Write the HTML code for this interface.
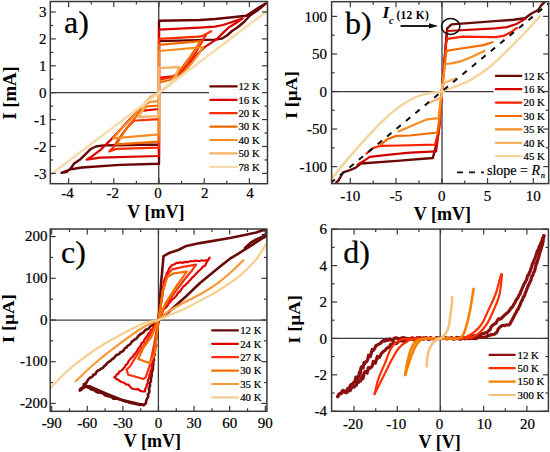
<!DOCTYPE html><html><head><meta charset="utf-8"><style>svg text{font-family:"Liberation Serif",serif;fill:#000}svg text[font-weight="normal"]{stroke:#000;stroke-width:0.22px}html,body{margin:0;padding:0;background:#fff;width:550px;height:452px;overflow:hidden;position:relative}</style></head><body><svg width="550" height="452" viewBox="0 0 550 452" style="position:absolute;left:0;top:0" fill="#111">
<rect width="550" height="452" fill="#fff"/>
<defs><clipPath id="clipA"><rect x="50.3" y="1.5" width="217.2" height="182.2"/></clipPath><clipPath id="clipB"><rect x="331.6" y="1.7" width="217.1" height="181.9"/></clipPath><clipPath id="clipC"><rect x="50.2" y="229" width="216.7" height="182.3"/></clipPath><clipPath id="clipD"><rect x="331.6" y="229.1" width="216.8" height="182.2"/></clipPath></defs>
<line x1="158.75" y1="1.5" x2="158.75" y2="183.7" stroke="#3c3c3c" stroke-width="1.3" />
<line x1="50.3" y1="92.7" x2="209" y2="92.7" stroke="#3c3c3c" stroke-width="1.25" />
<line x1="442" y1="1.7" x2="442" y2="183.6" stroke="#3c3c3c" stroke-width="1.3" />
<line x1="331.6" y1="91.5" x2="493.6" y2="91.5" stroke="#3c3c3c" stroke-width="1.25" />
<line x1="158.4" y1="229" x2="158.4" y2="411.3" stroke="#3c3c3c" stroke-width="1.3" />
<line x1="50.2" y1="320" x2="266.9" y2="320" stroke="#3c3c3c" stroke-width="1.25" />
<line x1="440.2" y1="229.1" x2="440.2" y2="411.3" stroke="#3c3c3c" stroke-width="1.3" />
<line x1="331.6" y1="338.4" x2="548.4" y2="338.4" stroke="#3c3c3c" stroke-width="1.25" />
<g clip-path="url(#clipA)">
<polyline points="159,92.7 159,20.8 200,20 215,19 230,17.5 246.2,15.7 252,12 258,8 266,3.4 258,10 250,15.5 244,22 238,27 232,31 227,35.5 222,38.6 215,39.6 159,41.1" fill="none" stroke="#6a0404" stroke-width="2.4" stroke-linejoin="round" stroke-linecap="round" />
<polyline points="159,92.7 159,163.7 120,164.9 81.8,167.5 70.4,169.4 61.5,172.8 66.5,172 70.4,168.7 74.2,163.5 80.5,159.2 85.6,154.1 90.7,149 95.8,146.5 103.5,145.4 115,145.2 159,144.5" fill="none" stroke="#6a0404" stroke-width="2.4" stroke-linejoin="round" stroke-linecap="round" />
<polyline points="159,92.7 159,29.6 200,27.6 215,26.6 223,25 232,22 242.7,18.4 236,23 229,27.3 224.3,31.6 216.5,39.4 205.4,46.6 197.7,53.8 186.6,67.1 177.8,74.8 172.4,76.4 159,77.8" fill="none" stroke="#dc0000" stroke-width="2.2" stroke-linejoin="round" stroke-linecap="round" />
<polyline points="159,92.7 159,156 100,157.6 86.6,159.7 91.5,156.6 101.2,149.3 111,139.6 120,130 130,119 136,113 141,110.8 159,109" fill="none" stroke="#dc0000" stroke-width="2.2" stroke-linejoin="round" stroke-linecap="round" />
<polyline points="159,92.7 159,38.9 198.6,36.7 202.1,36.1 211.2,31.3 206.5,33.9 202.1,41.6 195.5,52.7 187.7,63.8 178.9,73.7 172,77 159,79.8" fill="none" stroke="#ff2a00" stroke-width="2.2" stroke-linejoin="round" stroke-linecap="round" />
<polyline points="159,92.7 159,147.7 116.6,148.8 109.4,151.5 114.4,146 119.9,137.1 126.6,128.3 134.3,120.5 136.5,120.5 159,119.2" fill="none" stroke="#ff2a00" stroke-width="2.2" stroke-linejoin="round" stroke-linecap="round" />
<polyline points="159,92.7 159,44.9 200.8,41.1 196.6,47.1 189.9,57.1 182.2,67.1 175.5,74.8 170,80 159,82.5" fill="none" stroke="#f06a00" stroke-width="2.2" stroke-linejoin="round" stroke-linecap="round" />
<polyline points="159,92.7 159,141.6 116.6,144.3 122.1,134.9 128.8,125.5 136.5,116.1 141,110 147.1,106.4 159,105.5" fill="none" stroke="#f06a00" stroke-width="2.2" stroke-linejoin="round" stroke-linecap="round" />
<polyline points="159,92.7 159,51 203.2,47.1 198.8,53.8 192.1,62.7 184.4,71.5 175,80 165,88 159,92.7" fill="none" stroke="#f68c22" stroke-width="2.2" stroke-linejoin="round" stroke-linecap="round" />
<polyline points="159,92.7 159,134.4 113.3,138.3 119.9,130.5 127.7,122.2 134.3,115 142,106 149.8,102 159,101" fill="none" stroke="#f68c22" stroke-width="2.2" stroke-linejoin="round" stroke-linecap="round" />
<polyline points="159,92.7 159,68.1 179,67 174.7,79.4 171.6,83.2 164.6,88.7 159,92.7" fill="none" stroke="#f8b266" stroke-width="2.4" stroke-linejoin="round" stroke-linecap="round" />
<polyline points="159,92.7 159,116.1 138.3,117 142.7,110.4 145.4,102.4 150.7,96.6 155,94.9 159,92.7" fill="none" stroke="#f8b266" stroke-width="2.4" stroke-linejoin="round" stroke-linecap="round" />
<polyline points="50.3,174.8 267.5,10.8" fill="none" stroke="#f3dcaa" stroke-width="2.4" stroke-linejoin="round" stroke-linecap="round" />
</g>
<g clip-path="url(#clipB)">
<polyline points="441.8,91.5 444.1,66.4 445.8,44.9 447.2,28.3 451.6,24.4 495,21.1 513.3,19.8 524.9,18.3 531.9,13.2 538.1,10.1 541.2,5.4 545,1.6 547,-1" fill="none" stroke="#6b0a0a" stroke-width="2.4" stroke-linejoin="round" stroke-linecap="round" />
<polyline points="441.8,91.5 440.5,110 438.9,130 436,146 432.8,158 400,160.6 361,163.5 355.4,167.9 349.9,170.1 343.3,172.4 341.1,175.7 338.8,180.1 336.6,182.3 334,186" fill="none" stroke="#6b0a0a" stroke-width="2.4" stroke-linejoin="round" stroke-linecap="round" />
<polyline points="441.8,91.5 444.1,66.4 445.8,44.9 447.2,31 495,28.3 507,27.1 516.4,24 525.7,18.6" fill="none" stroke="#d00000" stroke-width="2.2" stroke-linejoin="round" stroke-linecap="round" />
<polyline points="441.8,91.5 440.5,110 438.9,130 436.1,151.3 410,152.6 389.7,154.7 369.8,156.9 363.2,161.3 357.6,164.6" fill="none" stroke="#d00000" stroke-width="2.2" stroke-linejoin="round" stroke-linecap="round" />
<polyline points="441.8,91.5 444.1,66.4 445.8,44.9 447.2,38.8 462.7,36.6 495,37.1 504,35.8 510.2,32.6 517,27.8" fill="none" stroke="#ff2000" stroke-width="2.2" stroke-linejoin="round" stroke-linecap="round" />
<polyline points="441.8,91.5 440.5,110 438.9,130 435,144.7 400,145.5 380.9,145.8 373.1,148 366.5,153.6" fill="none" stroke="#ff2000" stroke-width="2.2" stroke-linejoin="round" stroke-linecap="round" />
<polyline points="441.8,91.5 444.5,66 446.5,50.9 454.5,49.5 483.6,45.1 492.4,42.2" fill="none" stroke="#f46a00" stroke-width="2.2" stroke-linejoin="round" stroke-linecap="round" />
<polyline points="441.8,91.5 440,115 437.3,132.5 410,135.5 396.3,135.9 387.5,139.2 380.9,144.7" fill="none" stroke="#f46a00" stroke-width="2.2" stroke-linejoin="round" stroke-linecap="round" />
<polyline points="441.8,91.5 445.1,64 451.6,63.3 461.8,61.1 472,56.7 484.4,50.9" fill="none" stroke="#f68c22" stroke-width="2.2" stroke-linejoin="round" stroke-linecap="round" />
<polyline points="441.8,91.5 438.4,118.2 427.3,119.3 414,124.8 398.6,131.4" fill="none" stroke="#f68c22" stroke-width="2.2" stroke-linejoin="round" stroke-linecap="round" />
<polyline points="441.8,91.5 442.2,85.1 445.8,82.2 455.3,78.5" fill="none" stroke="#f8b266" stroke-width="2.2" stroke-linejoin="round" stroke-linecap="round" />
<polyline points="441.8,91.5 441.7,97.2 429.5,102.7" fill="none" stroke="#f8b266" stroke-width="2.2" stroke-linejoin="round" stroke-linecap="round" />
<path d="M540.2,15.9 C538.17,18.17 532.1,25.12 528,29.5 C523.9,33.88 520.08,37.7 515.6,42.2 C511.12,46.7 506.18,51.78 501.1,56.5 C496.02,61.22 490.43,66.47 485.1,70.5 C479.77,74.53 474.68,77.78 469.1,80.7 C463.52,83.62 456.15,86.2 451.6,88 C447.05,89.8 445.12,90.72 441.8,91.5 C438.48,92.28 435.58,91.95 431.7,92.7 C427.82,93.45 422.92,94.33 418.5,96 C414.08,97.67 409.63,99.93 405.2,102.7 C400.77,105.47 396.32,108.92 391.9,112.6 C387.48,116.28 383.48,120 378.7,124.8 C373.92,129.6 368.37,135.68 363.2,141.4 C358.03,147.12 352.87,153.02 347.7,159.1 C342.53,165.18 335.32,174.08 332.2,177.9 C329.08,181.72 329.53,181.32 329,182" fill="none" stroke="#f3d49a" stroke-width="2.4" stroke-linejoin="round" stroke-linecap="round" />
</g>
<g clip-path="url(#clipC)">
<polyline points="158.5,320 161.3,280.4 162,273.3 163.5,256.2 169,253.1 178.3,250 186.4,245.9 200,243.1 230,238 245.9,234.8 256.3,232.4 263.5,230 267,230 267.5,235.6 261.9,238.7 255.5,242.7 249.9,246.3 244.3,249.9 238,253.9 230,258.7 220.1,266.5 200,283 186.4,296 167.5,313 158.5,320" fill="none" stroke="#6b0a0a" stroke-width="2.6" stroke-linejoin="round" stroke-linecap="round" />
<polyline points="267.5,234 261.9,237 256.3,239.4 250.7,242.6 245,248" fill="none" stroke="#6b0a0a" stroke-width="2.6" stroke-linejoin="round" stroke-linecap="round" />
<polyline points="262,230 267,230 267,235 263,235" fill="none" stroke="#6b0a0a" stroke-width="2.6" stroke-linejoin="round" stroke-linecap="round" />
<polyline points="158.64,320.17 157.12,321.31 155.74,322.63 153.88,323.35 153.01,325.3 150.94,325.75 149.76,327.32 148.38,328.63 146.61,329.46 144.96,330.44 143.82,332.06 142.22,333.1 140.5,334 139.11,335.29 137.81,336.71 136.64,338.3 134.96,339.36 133.44,340.59 131.78,341.66 130.88,343.54 129.4,344.81 127.63,345.77 126.5,347.4 124.75,348.38 123.71,350.13 122.4,351.57 120.36,352.14 119.34,353.93 117.41,354.62 115.77,355.67 114.58,357.27 113.18,358.6 111.52,359.62 110.21,361.07 108.47,361.98 106.94,363.16 105.83,364.94 104.17,366.05 103.06,367.84 101.14,368.63 99.57,369.86 97.71,370.73 96.33,372.18 95.47,374.26 93.24,374.74 92.51,376.64 90.64,377.43 89.06,378.49 87.98,380.06 86.86,381.57 86.05,383.4 83.9,384 83.57,386.19 82.39,387.74 80.37,388.65 79.68,390.63 81.31,389.78 82.52,388.26 84.25,387.58 85.86,386.45 87.58,387.35 89.38,388.07 90.91,389.37 92.92,389.61 94.65,390.46 96.18,391.8 97.96,392.6 100.06,392.32 101.71,393.17 103.58,393.46 104.81,395.33 106.65,395.69 108.43,396.23 110.22,396.72 112,397.24 113.43,398.76 115.64,398.41 117.67,398.71 119.56,399.42 121.5,400.01 123.35,400.85 125.3,401.4 127.27,401.85 129.14,402.58 130.95,403.03 132.77,403.45 134.72,403.1 136.4,404.33 138.26,404.5 140.07,404.98 142.07,404.35 143.64,405.18 145.9,403.17 146.27,400.48 147.2,398.13 148.35,396.41 147.79,394.41 149.21,392.73 149.4,390.85 148.92,388.86 149.51,387.05 150.16,385.25 149.59,383.24 150.92,381.55 150.85,379.62 151.09,377.66 151.75,375.75 151.59,373.73 152.07,371.8 152.74,369.89 152.97,367.92 152.95,365.92 153.44,363.99 152.93,361.92 154.09,360.09 153.27,358.11 153.34,356.26 154.98,354.65 154.46,352.71 154.82,350.91 154.53,349.01 155.1,347.24 156.3,345.55 155.65,343.6 155.51,341.73 155.77,339.93 156.09,338.13 156.27,336.31 157.03,334.55 156.99,332.71 157.4,330.91 157.54,329.09 157.55,327.25 157.88,325.45 157.91,323.61 158.87,321.88 158.5,320" fill="none" stroke="#6b0a0a" stroke-width="2.6" stroke-linejoin="round" stroke-linecap="round" />
<polyline points="84.3,385.8 90.5,386.6 105.9,393.5 121.4,399.7 136.8,403.6 143.8,405.1" fill="none" stroke="#6b0a0a" stroke-width="2.6" stroke-linejoin="round" stroke-linecap="round" />
<polyline points="158.8,319.75 158.72,317.85 158.58,315.94 159.19,314.15 159.33,312.29 159.63,310.45 160.55,308.7 160.28,306.78 160.86,304.98 160.86,303.1 161.33,301.28 161.72,299.46 162.01,297.62 162.19,295.76 162.56,293.93 162.81,292.08 162.44,290.14 163.47,288.41 163.09,286.47 163.8,284.69 163.59,282.78 164.25,280.98 164.73,279.12 165.37,277.32 166.42,275.66 166.49,273.65 167.67,272.04 168.44,270.4 169.14,268.34 170.6,266.9 171.95,265.21 174.38,264.3 176.66,262.88 178.6,262.94 180.44,262.23 182.46,262.85 184.3,262.14 186.19,261.83 188.16,262.1 189.96,261.15 191.91,261.25 193.82,261.17 195.77,260.56 197.78,260.84 199.78,261.03 201.74,260.31 203.75,260.73 205.72,260.29 208.05,260.45 209.71,257.62 208.74,259.16 207.78,260.7 206.74,262.2 205.89,263.69 204.93,265.83 202.76,266.76 201.45,268.55 199.85,270.05 198.13,271.43 196.72,273.12 195.18,274.68 193.84,276.45 192.24,277.42 191.28,279.05 189.95,280.3 188.64,281.58 187.5,283.02 186.03,284.13 184.95,285.6 183.22,286.53 182.27,288.12 181.05,289.48 180.29,291.24 178.64,292.23 177.48,293.64 176.75,295.43 175.36,296.64 174.22,298.08 172.58,299.08 171.27,300.37 170.3,301.97 168.91,303.18 168.01,304.83 166.96,306.35 165.75,307.73 164.07,308.78 163.01,310.52 162.43,312.54 161.84,314.53 160.39,316.08 159.79,318.08 158.5,319.7" fill="none" stroke="#e00000" stroke-width="2.2" stroke-linejoin="round" stroke-linecap="round" />
<polyline points="158.22,319.5 157,320.98 156.23,322.77 155.4,324.52 154.38,326.13 153.27,327.68 152.32,329.35 150.56,330.45 150.23,332.55 148.26,333.5 147.76,335.48 146.48,336.91 145.37,338.46 144.22,339.98 143.68,341.94 141.7,343.03 140.87,344.94 139.96,346.8 138.49,348.25 137.59,350.11 136.4,351.77 135.37,353.57 133.79,354.74 133.04,356.56 131.46,357.73 130.22,359.17 129.03,360.65 128.08,362.31 127.22,364.04 125.59,365.18 124.92,367.06 123.39,368.29 122.37,369.87 120.83,370.93 119,371.7 118.45,373.75 116.63,374.53 115.77,376.27 114.33,377.12 116.1,378.74 118.32,379.75 120.07,381.31 122.12,382.21 124.3,382.78 126.04,384.43 128.48,384.62 129.95,386.45 131.57,388.2 133.71,389 135.98,389.31 138.34,389.22 140.31,390.84 142.55,391.36 145.14,391.48 145.2,388.74 146.73,386.47 146.62,384.42 148.15,382.87 147.67,380.72 148.44,378.94 149.31,377.19 149.41,375.21 150.51,373.52 150.41,371.48 151.31,369.77 152.01,368.06 151.63,366.16 152.07,364.41 152.87,362.71 153.55,361 152.8,359.04 153.63,357.35 154.29,355.64 153.67,353.7 154.32,351.98 155.28,350.32 154.82,348.41 155.62,346.72 155.84,344.92 155.47,343.05 155.65,341.25 155.83,339.45 156.93,337.75 156.93,335.93 156.65,334.07 156.58,332.24 157.6,330.53 157.54,328.7 157.61,326.89 157.55,325.06 157.5,323.23 158.31,321.5 158.5,319.7" fill="none" stroke="#e00000" stroke-width="2.2" stroke-linejoin="round" stroke-linecap="round" />
<polyline points="158.5,319.7 163.5,288.8 167.4,274.8 172.1,269.4 186,266.3 196.1,264.7 192.2,270.2 184.5,279.5 175.2,291.9 164.3,307.4 158.5,319.7" fill="none" stroke="#ff3010" stroke-width="2.2" stroke-linejoin="round" stroke-linecap="round" />
<polyline points="158.5,319.7 146.5,341.6 138.2,353.2 129.9,366.5 126.6,369.8 128.3,374.8 134.9,376.5 143.2,379 145.7,377.3 149.9,364.9 154,344.9 158.5,319.7" fill="none" stroke="#ff3010" stroke-width="2.2" stroke-linejoin="round" stroke-linecap="round" />
<polyline points="158.5,319.7 162.8,290.3 167.4,277.1 173.6,273.3 186.8,271.7 182.9,277.1 175.2,288 165.9,302.7 158.5,319.7" fill="none" stroke="#f47000" stroke-width="2.2" stroke-linejoin="round" stroke-linecap="round" />
<polyline points="158.5,319.7 151.5,336.6 143.2,348.2 138.2,359 149.9,363.2 154.9,353.2 158.5,319.7" fill="none" stroke="#f47000" stroke-width="2.2" stroke-linejoin="round" stroke-linecap="round" />
<path d="M243.3,260.2 C241.78,261.7 238.07,265.68 234.2,269.2 C230.33,272.72 224.82,277.67 220.1,281.3 C215.38,284.93 210.38,288.22 205.9,291 C201.42,293.78 197.43,295.77 193.2,298 C188.97,300.23 184.75,302.07 180.5,304.4 C176.25,306.73 171.37,309.4 167.7,312 C164.03,314.6 162.57,317.47 158.5,320 C154.43,322.53 149.93,323.13 143.3,327.2 C136.67,331.27 126.9,338.27 118.7,344.4 C110.5,350.53 101.27,357.85 94.1,364 C86.93,370.15 78.77,378.42 75.7,381.3" fill="none" stroke="#f89a3a" stroke-width="2.2" stroke-linejoin="round" stroke-linecap="round" />
<path d="M268,241 C266.05,244.03 260.93,253.48 256.3,259.2 C251.67,264.92 246.23,270.25 240.2,275.3 C234.17,280.35 225.82,285.82 220.1,289.5 C214.38,293.18 210.38,294.92 205.9,297.4 C201.42,299.88 197.43,302.18 193.2,304.4 C188.97,306.62 184.75,308.8 180.5,310.7 C176.25,312.6 171.37,314.25 167.7,315.8 C164.03,317.35 162.57,318.72 158.5,320 C154.43,321.28 149.93,320.87 143.3,323.5 C136.67,326.13 126.9,331.3 118.7,335.8 C110.5,340.3 102.28,344.97 94.1,350.5 C85.92,356.03 77.12,362.5 69.6,369 C62.08,375.5 52.43,386.08 49,389.5" fill="none" stroke="#f5cf90" stroke-width="2.2" stroke-linejoin="round" stroke-linecap="round" />
</g>
<g clip-path="url(#clipD)">
<polyline points="543.9,235.72 543.24,237.62 542.58,237.92 541.92,241.06 541.26,242.2 540.6,243.82 539.94,245.76 539.28,246.45 538.62,248.86 537.96,250.23 537.3,250.84 536.73,253.4 536.16,254.72 535.59,256.64 535.01,258.18 534.44,259.4 533.87,260.82 533.3,262.92 532.73,263.09 532.16,264.59 531.59,266.99 531.01,268.55 530.44,270.59 529.87,271.67 529.3,272.87 528.64,275.02 527.97,275.12 527.31,276.82 526.65,279.64 525.99,280.65 525.33,282.01 524.66,283.3 524,283.96 523.34,286.03 522.67,287.22 522.01,288.78 521.35,290.68 520.69,291.51 520.03,294.29 519.36,294.56 518.7,295.8 517.74,298.16 516.77,299.17 515.81,300.53 514.85,302.89 513.88,304.18 512.92,306 511.95,307.66 510.99,307.86 510.03,309.77 509.06,310.87 508.1,312.14 506.78,313.17 505.45,314.31 504.12,315.52 502.8,316.89 501.48,318.4 500.15,319.22 498.82,318.74 497.5,320.04 496.43,322.46 495.36,323.67 494.29,324.17 493.22,324.8 492.15,325.72 491.08,326.86 490.01,329.7 488.94,330.59 487.87,331.42 486.8,332.74 485.21,332.76 483.62,333.58 482.03,333.58 480.44,335.02 478.85,335.35 477.26,335.84 475.67,335.53 474.08,335.91 472.49,336.38 470.9,338.28 469.13,338.62 467.37,338.18 465.6,338.39 463.83,337.84 462.07,338.04 460.3,337.62 458.53,338.86 456.77,337.39 455,338.82 453.36,338.99 451.72,337.77 450.08,338.54 448.44,338.19 446.8,338.92 445.16,337.73 443.52,338.39 441.88,338.33 440.24,338.01 438.6,338.06 436.96,337.88 435.32,338.4 433.68,338.53 432.04,338.55 430.4,337.52 428.76,339.07 427.12,338.59 425.48,338.1 423.84,339.03 422.2,339.12 420.56,337.6 418.92,338.24 417.28,337.68 415.64,338.77 414,338.49 412.38,337.77 410.76,338.53 409.15,339.04 407.53,338.57 405.91,338.21 404.29,337.88 402.67,337.65 401.05,338.26 399.44,339.16 397.82,338.37 396.2,337.9 394.61,338.11 393.02,339.97 391.44,340.26 389.85,338.87 388.26,340.35 386.68,339.35 385.09,341.11 383.5,340.64 381.98,341.66 380.46,343.35 378.94,344.06 377.42,344.98 375.9,345.76 374.99,347.95 374.07,349.36 373.16,350.7 372.24,349.42 371.33,352.97 370.41,356.58 369.5,355.42 368.59,355.18 367.67,359.76 366.76,361.5 365.84,361.72 364.93,363.49 364.01,362.47 363.1,368.07 362.37,367.31 361.64,366.64 360.91,368.08 360.19,373.98 359.46,371.96 358.73,376.97 358,376.3 356.91,378.78 355.83,377.08 354.74,381.99 353.66,382.44 352.57,384.11 351.49,384.27 350.4,385.2 349.13,388.69 347.86,388.27 346.59,390.65 345.32,391.49 344.05,390.98 342.78,390.33 341.51,392.57 340.24,393.36 338.97,394.17 337.7,396.6" fill="none" stroke="#8a1010" stroke-width="3.2" stroke-linejoin="round" stroke-linecap="round" />
<polyline points="543.9,235.72 543.64,237.63 543.38,237.94 543.12,241.09 542.86,242.24 542.6,243.87 542.13,245.78 541.66,246.43 541.19,248.82 540.72,250.15 540.25,250.73 539.78,253.33 539.31,254.69 538.84,256.64 538.36,258.23 537.89,259.48 537.42,260.94 536.95,263.08 536.48,263.29 536.01,264.82 535.54,267.26 535.07,268.85 534.6,270.94 533.98,272.05 533.35,273.3 532.73,275.52 532.11,275.69 531.48,277.46 530.86,280.35 530.24,281.44 529.61,282.86 528.99,284.22 528.36,284.96 527.74,287.1 527.12,288.36 526.49,289.99 525.87,291.96 525.25,292.86 524.62,295.71 524,296.06 523.24,297.32 522.49,299.74 521.73,300.82 520.97,302.25 520.21,304.68 519.46,306.03 518.7,307.93 517.94,309.66 517.19,309.92 516.43,311.91 515.67,313.07 514.91,314.42 514.16,315.97 513.4,317.63 512.34,319.43 511.28,321.4 510.22,323.5 509.16,324.91 508.1,325.02 506.33,324.9 504.57,325.7 502.8,325.27 501.66,325.9 500.51,326.66 499.37,327.71 498.23,328.97 497.09,331.94 495.94,332.96 494.8,333.92 493.14,334.54 491.48,334.53 489.81,335.32 488.15,335.29 486.49,336.7 484.82,337 483.16,337.46 481.5,337.12 479.85,337.02 478.19,337 476.54,338.42 474.88,338.75 473.23,338.3 471.58,338.5 469.92,337.94 468.27,338.14 466.62,337.7 464.96,338.93 463.31,337.46 461.65,338.88 460,339.09 458.33,337.87 456.66,338.64 454.99,338.29 453.32,339.02 451.65,337.83 449.98,338.49 448.31,338.43 446.64,338.11 444.97,338.16 443.3,337.98 441.63,338.5 439.97,338.63 438.3,338.65 436.63,337.62 434.96,339.17 433.29,338.69 431.62,338.2 429.95,339.13 428.28,339.22 426.61,337.7 424.94,338.34 423.27,337.78 421.6,338.87 419.79,338.73 417.97,338.12 416.16,339.01 414.34,339.63 412.53,339.27 410.71,339.03 408.9,338.82 407.2,338.98 405.5,339.99 403.8,341.28 402.1,340.89 400.4,340.81 398.7,341.18 397,343.21 395.3,343.65 393.6,342.15 392.16,344.88 390.71,344.29 389.27,347.39 387.83,347.51 386.39,348.62 384.94,350.61 383.5,351.2 382.48,352.37 381.46,353.4 380.44,355.41 379.42,357.33 378.4,357.82 377.38,356.37 376.36,359.74 375.34,363.18 374.32,361.85 373.3,361.42 372.28,365.82 371.26,367.36 370.24,367.4 369.22,368.99 368.2,367.77 367.18,373.19 366.16,372.25 365.14,371.39 364.12,372.64 363.1,378.35 361.98,376.14 360.86,380.97 359.73,380.1 358.61,382.4 357.49,380.53 356.37,385.26 355.24,385.54 354.12,387.03 353,387.02 351.61,387.31 350.22,390.58 348.83,389.95 347.44,392.13 346.05,392.76 344.65,392.04 343.26,391.18 341.87,393.21 340.48,393.78 339.09,394.38 337.7,396.6" fill="none" stroke="#8a1010" stroke-width="3.2" stroke-linejoin="round" stroke-linecap="round" />
<path d="M501.4,274.1 C501.18,274.77 501.07,274.78 500.1,278.1 C499.13,281.42 497.53,288.7 495.6,294 C493.67,299.3 491.02,304.6 488.5,309.9 C485.98,315.2 484.03,321.37 480.5,325.8 C476.97,330.23 471.55,334.42 467.3,336.5 C463.05,338.58 464.32,337.97 455,338.3 C445.68,338.63 420.78,338.1 411.4,338.5 C402.02,338.9 402.08,339.07 398.7,340.7 C395.32,342.33 393.42,344.48 391.1,348.3 C388.78,352.12 386.92,358.52 384.8,363.6 C382.68,368.68 380.1,373.72 378.4,378.8 C376.7,383.88 375.23,391.55 374.6,394.1" fill="none" stroke="#ff3000" stroke-width="2.2" stroke-linejoin="round" stroke-linecap="round" />
<path d="M502,274.5 C501.58,277.83 500.92,288.5 499.5,294.5 C498.08,300.5 495.83,305.25 493.5,310.5 C491.17,315.75 488.92,321.58 485.5,326 C482.08,330.42 478.08,334.93 473,337 C467.92,339.07 464.42,338.13 455,338.4 C445.58,338.67 424.6,338 416.5,338.6 C408.4,339.2 409.37,340.38 406.4,342 C403.43,343.62 401.25,345.13 398.7,348.3 C396.15,351.47 393.63,356.33 391.1,361 C388.57,365.67 386.25,370.78 383.5,376.3 C380.75,381.82 376.08,391.13 374.6,394.1" fill="none" stroke="#ff3000" stroke-width="2.2" stroke-linejoin="round" stroke-linecap="round" />
<path d="M473.6,288.7 C473.38,290.03 472.97,292.72 472.3,296.7 C471.63,300.68 470.72,307.3 469.6,312.6 C468.48,317.9 467.15,324.3 465.6,328.5 C464.05,332.7 463.73,336.15 460.3,337.8 C456.87,339.45 450.6,338.28 445,338.4 C439.4,338.52 431.45,338.12 426.7,338.5 C421.95,338.88 419.05,339.07 416.5,340.7 C413.95,342.33 412.88,344.92 411.4,348.3 C409.92,351.68 408.65,356.55 407.6,361 C406.55,365.45 405.52,372.67 405.1,375" fill="none" stroke="#f88000" stroke-width="2.6" stroke-linejoin="round" stroke-linecap="round" />
<path d="M421.6,339.4 C420.75,340.25 418.2,341.75 416.5,344.5 C414.8,347.25 413.3,350.82 411.4,355.9 C409.5,360.98 406.15,371.82 405.1,375" fill="none" stroke="#f88000" stroke-width="2.6" stroke-linejoin="round" stroke-linecap="round" />
<path d="M452.1,297 C452.03,298.48 452.02,302.73 451.7,305.9 C451.38,309.07 450.68,312.65 450.2,316 C449.72,319.35 449.52,323.13 448.8,326 C448.08,328.87 447.28,331.13 445.9,333.2 C444.52,335.27 442,337.37 440.5,338.4 C439,339.43 438.35,338.38 436.9,339.4 C435.45,340.42 433.28,342.17 431.8,344.5 C430.32,346.83 428.85,349.8 428,353.4 C427.15,357 426.92,363.98 426.7,366.1" fill="none" stroke="#f7c07c" stroke-width="2.6" stroke-linejoin="round" stroke-linecap="round" />
</g>
<g clip-path="url(#clipB)"><line x1="331.5" y1="182.2" x2="550" y2="2.4" stroke="#111" stroke-width="2" stroke-dasharray="5.6 6.6" stroke-dashoffset="1.2"/></g>
<line x1="68.6" y1="183.7" x2="68.6" y2="178.2" stroke="#3a3a3a" stroke-width="1.2" />
<line x1="68.6" y1="1.5" x2="68.6" y2="7" stroke="#3a3a3a" stroke-width="1.2" />
<line x1="113.8" y1="183.7" x2="113.8" y2="178.2" stroke="#3a3a3a" stroke-width="1.2" />
<line x1="113.8" y1="1.5" x2="113.8" y2="7" stroke="#3a3a3a" stroke-width="1.2" />
<line x1="159" y1="183.7" x2="159" y2="178.2" stroke="#3a3a3a" stroke-width="1.2" />
<line x1="159" y1="1.5" x2="159" y2="7" stroke="#3a3a3a" stroke-width="1.2" />
<line x1="204.2" y1="183.7" x2="204.2" y2="178.2" stroke="#3a3a3a" stroke-width="1.2" />
<line x1="204.2" y1="1.5" x2="204.2" y2="7" stroke="#3a3a3a" stroke-width="1.2" />
<line x1="249.4" y1="183.7" x2="249.4" y2="178.2" stroke="#3a3a3a" stroke-width="1.2" />
<line x1="249.4" y1="1.5" x2="249.4" y2="7" stroke="#3a3a3a" stroke-width="1.2" />
<line x1="91.2" y1="183.7" x2="91.2" y2="180.7" stroke="#3a3a3a" stroke-width="1.2" />
<line x1="91.2" y1="1.5" x2="91.2" y2="4.5" stroke="#3a3a3a" stroke-width="1.2" />
<line x1="136.4" y1="183.7" x2="136.4" y2="180.7" stroke="#3a3a3a" stroke-width="1.2" />
<line x1="136.4" y1="1.5" x2="136.4" y2="4.5" stroke="#3a3a3a" stroke-width="1.2" />
<line x1="181.6" y1="183.7" x2="181.6" y2="180.7" stroke="#3a3a3a" stroke-width="1.2" />
<line x1="181.6" y1="1.5" x2="181.6" y2="4.5" stroke="#3a3a3a" stroke-width="1.2" />
<line x1="226.8" y1="183.7" x2="226.8" y2="180.7" stroke="#3a3a3a" stroke-width="1.2" />
<line x1="226.8" y1="1.5" x2="226.8" y2="4.5" stroke="#3a3a3a" stroke-width="1.2" />
<line x1="50.3" y1="173.4" x2="55.8" y2="173.4" stroke="#3a3a3a" stroke-width="1.2" />
<line x1="267.5" y1="173.4" x2="262" y2="173.4" stroke="#3a3a3a" stroke-width="1.2" />
<line x1="50.3" y1="146.5" x2="55.8" y2="146.5" stroke="#3a3a3a" stroke-width="1.2" />
<line x1="267.5" y1="146.5" x2="262" y2="146.5" stroke="#3a3a3a" stroke-width="1.2" />
<line x1="50.3" y1="119.6" x2="55.8" y2="119.6" stroke="#3a3a3a" stroke-width="1.2" />
<line x1="267.5" y1="119.6" x2="262" y2="119.6" stroke="#3a3a3a" stroke-width="1.2" />
<line x1="50.3" y1="92.7" x2="55.8" y2="92.7" stroke="#3a3a3a" stroke-width="1.2" />
<line x1="267.5" y1="92.7" x2="262" y2="92.7" stroke="#3a3a3a" stroke-width="1.2" />
<line x1="50.3" y1="65.8" x2="55.8" y2="65.8" stroke="#3a3a3a" stroke-width="1.2" />
<line x1="267.5" y1="65.8" x2="262" y2="65.8" stroke="#3a3a3a" stroke-width="1.2" />
<line x1="50.3" y1="38.9" x2="55.8" y2="38.9" stroke="#3a3a3a" stroke-width="1.2" />
<line x1="267.5" y1="38.9" x2="262" y2="38.9" stroke="#3a3a3a" stroke-width="1.2" />
<line x1="50.3" y1="12" x2="55.8" y2="12" stroke="#3a3a3a" stroke-width="1.2" />
<line x1="267.5" y1="12" x2="262" y2="12" stroke="#3a3a3a" stroke-width="1.2" />
<line x1="50.3" y1="159.95" x2="53.3" y2="159.95" stroke="#3a3a3a" stroke-width="1.2" />
<line x1="267.5" y1="159.95" x2="264.5" y2="159.95" stroke="#3a3a3a" stroke-width="1.2" />
<line x1="50.3" y1="133.05" x2="53.3" y2="133.05" stroke="#3a3a3a" stroke-width="1.2" />
<line x1="267.5" y1="133.05" x2="264.5" y2="133.05" stroke="#3a3a3a" stroke-width="1.2" />
<line x1="50.3" y1="106.15" x2="53.3" y2="106.15" stroke="#3a3a3a" stroke-width="1.2" />
<line x1="267.5" y1="106.15" x2="264.5" y2="106.15" stroke="#3a3a3a" stroke-width="1.2" />
<line x1="50.3" y1="79.25" x2="53.3" y2="79.25" stroke="#3a3a3a" stroke-width="1.2" />
<line x1="267.5" y1="79.25" x2="264.5" y2="79.25" stroke="#3a3a3a" stroke-width="1.2" />
<line x1="50.3" y1="52.35" x2="53.3" y2="52.35" stroke="#3a3a3a" stroke-width="1.2" />
<line x1="267.5" y1="52.35" x2="264.5" y2="52.35" stroke="#3a3a3a" stroke-width="1.2" />
<line x1="50.3" y1="25.45" x2="53.3" y2="25.45" stroke="#3a3a3a" stroke-width="1.2" />
<line x1="267.5" y1="25.45" x2="264.5" y2="25.45" stroke="#3a3a3a" stroke-width="1.2" />
<rect x="50.3" y="1.5" width="217.2" height="182.2" fill="none" stroke="#3a3a3a" stroke-width="1.5"/>
<text x="67.6" y="197.8" font-size="15" text-anchor="middle" font-weight="normal" font-style="normal" >-4</text>
<text x="112.8" y="197.8" font-size="15" text-anchor="middle" font-weight="normal" font-style="normal" >-2</text>
<text x="158" y="197.8" font-size="15" text-anchor="middle" font-weight="normal" font-style="normal" >0</text>
<text x="204.8" y="197.8" font-size="15" text-anchor="middle" font-weight="normal" font-style="normal" >2</text>
<text x="250" y="197.8" font-size="15" text-anchor="middle" font-weight="normal" font-style="normal" >4</text>
<text x="46.5" y="17.2" font-size="15" text-anchor="end" font-weight="normal" font-style="normal" >3</text>
<text x="46.5" y="44.1" font-size="15" text-anchor="end" font-weight="normal" font-style="normal" >2</text>
<text x="46.5" y="71" font-size="15" text-anchor="end" font-weight="normal" font-style="normal" >1</text>
<text x="46.5" y="97.9" font-size="15" text-anchor="end" font-weight="normal" font-style="normal" >0</text>
<text x="46.5" y="124.8" font-size="15" text-anchor="end" font-weight="normal" font-style="normal" >-1</text>
<text x="46.5" y="151.7" font-size="15" text-anchor="end" font-weight="normal" font-style="normal" >-2</text>
<text x="46.5" y="178.6" font-size="15" text-anchor="end" font-weight="normal" font-style="normal" >-3</text>
<line x1="350.3" y1="183.6" x2="350.3" y2="178.1" stroke="#3a3a3a" stroke-width="1.2" />
<line x1="350.3" y1="1.7" x2="350.3" y2="7.2" stroke="#3a3a3a" stroke-width="1.2" />
<line x1="396.05" y1="183.6" x2="396.05" y2="178.1" stroke="#3a3a3a" stroke-width="1.2" />
<line x1="396.05" y1="1.7" x2="396.05" y2="7.2" stroke="#3a3a3a" stroke-width="1.2" />
<line x1="441.8" y1="183.6" x2="441.8" y2="178.1" stroke="#3a3a3a" stroke-width="1.2" />
<line x1="441.8" y1="1.7" x2="441.8" y2="7.2" stroke="#3a3a3a" stroke-width="1.2" />
<line x1="487.55" y1="183.6" x2="487.55" y2="178.1" stroke="#3a3a3a" stroke-width="1.2" />
<line x1="487.55" y1="1.7" x2="487.55" y2="7.2" stroke="#3a3a3a" stroke-width="1.2" />
<line x1="533.3" y1="183.6" x2="533.3" y2="178.1" stroke="#3a3a3a" stroke-width="1.2" />
<line x1="533.3" y1="1.7" x2="533.3" y2="7.2" stroke="#3a3a3a" stroke-width="1.2" />
<line x1="373.18" y1="183.6" x2="373.18" y2="180.6" stroke="#3a3a3a" stroke-width="1.2" />
<line x1="373.18" y1="1.7" x2="373.18" y2="4.7" stroke="#3a3a3a" stroke-width="1.2" />
<line x1="418.93" y1="183.6" x2="418.93" y2="180.6" stroke="#3a3a3a" stroke-width="1.2" />
<line x1="418.93" y1="1.7" x2="418.93" y2="4.7" stroke="#3a3a3a" stroke-width="1.2" />
<line x1="464.68" y1="183.6" x2="464.68" y2="180.6" stroke="#3a3a3a" stroke-width="1.2" />
<line x1="464.68" y1="1.7" x2="464.68" y2="4.7" stroke="#3a3a3a" stroke-width="1.2" />
<line x1="510.43" y1="183.6" x2="510.43" y2="180.6" stroke="#3a3a3a" stroke-width="1.2" />
<line x1="510.43" y1="1.7" x2="510.43" y2="4.7" stroke="#3a3a3a" stroke-width="1.2" />
<line x1="331.6" y1="166.6" x2="337.1" y2="166.6" stroke="#3a3a3a" stroke-width="1.2" />
<line x1="548.7" y1="166.6" x2="543.2" y2="166.6" stroke="#3a3a3a" stroke-width="1.2" />
<line x1="331.6" y1="129.05" x2="337.1" y2="129.05" stroke="#3a3a3a" stroke-width="1.2" />
<line x1="548.7" y1="129.05" x2="543.2" y2="129.05" stroke="#3a3a3a" stroke-width="1.2" />
<line x1="331.6" y1="91.5" x2="337.1" y2="91.5" stroke="#3a3a3a" stroke-width="1.2" />
<line x1="548.7" y1="91.5" x2="543.2" y2="91.5" stroke="#3a3a3a" stroke-width="1.2" />
<line x1="331.6" y1="53.95" x2="337.1" y2="53.95" stroke="#3a3a3a" stroke-width="1.2" />
<line x1="548.7" y1="53.95" x2="543.2" y2="53.95" stroke="#3a3a3a" stroke-width="1.2" />
<line x1="331.6" y1="16.4" x2="337.1" y2="16.4" stroke="#3a3a3a" stroke-width="1.2" />
<line x1="548.7" y1="16.4" x2="543.2" y2="16.4" stroke="#3a3a3a" stroke-width="1.2" />
<line x1="331.6" y1="147.82" x2="334.6" y2="147.82" stroke="#3a3a3a" stroke-width="1.2" />
<line x1="548.7" y1="147.82" x2="545.7" y2="147.82" stroke="#3a3a3a" stroke-width="1.2" />
<line x1="331.6" y1="110.28" x2="334.6" y2="110.28" stroke="#3a3a3a" stroke-width="1.2" />
<line x1="548.7" y1="110.28" x2="545.7" y2="110.28" stroke="#3a3a3a" stroke-width="1.2" />
<line x1="331.6" y1="72.72" x2="334.6" y2="72.72" stroke="#3a3a3a" stroke-width="1.2" />
<line x1="548.7" y1="72.72" x2="545.7" y2="72.72" stroke="#3a3a3a" stroke-width="1.2" />
<line x1="331.6" y1="35.17" x2="334.6" y2="35.17" stroke="#3a3a3a" stroke-width="1.2" />
<line x1="548.7" y1="35.17" x2="545.7" y2="35.17" stroke="#3a3a3a" stroke-width="1.2" />
<rect x="331.6" y="1.7" width="217.1" height="181.9" fill="none" stroke="#3a3a3a" stroke-width="1.5"/>
<text x="350.3" y="201" font-size="15" text-anchor="middle" font-weight="normal" font-style="normal" >-10</text>
<text x="396.05" y="201" font-size="15" text-anchor="middle" font-weight="normal" font-style="normal" >-5</text>
<text x="441.8" y="201" font-size="15" text-anchor="middle" font-weight="normal" font-style="normal" >0</text>
<text x="487.55" y="201" font-size="15" text-anchor="middle" font-weight="normal" font-style="normal" >5</text>
<text x="533.3" y="201" font-size="15" text-anchor="middle" font-weight="normal" font-style="normal" >10</text>
<text x="327" y="21.6" font-size="15" text-anchor="end" font-weight="normal" font-style="normal" >100</text>
<text x="327" y="59.15" font-size="15" text-anchor="end" font-weight="normal" font-style="normal" >50</text>
<text x="327" y="96.7" font-size="15" text-anchor="end" font-weight="normal" font-style="normal" >0</text>
<text x="327" y="134.25" font-size="15" text-anchor="end" font-weight="normal" font-style="normal" >-50</text>
<text x="327" y="171.8" font-size="15" text-anchor="end" font-weight="normal" font-style="normal" >-100</text>
<line x1="51.67" y1="411.3" x2="51.67" y2="405.8" stroke="#3a3a3a" stroke-width="1.2" />
<line x1="51.67" y1="229" x2="51.67" y2="234.5" stroke="#3a3a3a" stroke-width="1.2" />
<line x1="87.28" y1="411.3" x2="87.28" y2="405.8" stroke="#3a3a3a" stroke-width="1.2" />
<line x1="87.28" y1="229" x2="87.28" y2="234.5" stroke="#3a3a3a" stroke-width="1.2" />
<line x1="122.89" y1="411.3" x2="122.89" y2="405.8" stroke="#3a3a3a" stroke-width="1.2" />
<line x1="122.89" y1="229" x2="122.89" y2="234.5" stroke="#3a3a3a" stroke-width="1.2" />
<line x1="158.5" y1="411.3" x2="158.5" y2="405.8" stroke="#3a3a3a" stroke-width="1.2" />
<line x1="158.5" y1="229" x2="158.5" y2="234.5" stroke="#3a3a3a" stroke-width="1.2" />
<line x1="194.11" y1="411.3" x2="194.11" y2="405.8" stroke="#3a3a3a" stroke-width="1.2" />
<line x1="194.11" y1="229" x2="194.11" y2="234.5" stroke="#3a3a3a" stroke-width="1.2" />
<line x1="229.72" y1="411.3" x2="229.72" y2="405.8" stroke="#3a3a3a" stroke-width="1.2" />
<line x1="229.72" y1="229" x2="229.72" y2="234.5" stroke="#3a3a3a" stroke-width="1.2" />
<line x1="265.33" y1="411.3" x2="265.33" y2="405.8" stroke="#3a3a3a" stroke-width="1.2" />
<line x1="265.33" y1="229" x2="265.33" y2="234.5" stroke="#3a3a3a" stroke-width="1.2" />
<line x1="69.47" y1="411.3" x2="69.47" y2="408.3" stroke="#3a3a3a" stroke-width="1.2" />
<line x1="69.47" y1="229" x2="69.47" y2="232" stroke="#3a3a3a" stroke-width="1.2" />
<line x1="105.09" y1="411.3" x2="105.09" y2="408.3" stroke="#3a3a3a" stroke-width="1.2" />
<line x1="105.09" y1="229" x2="105.09" y2="232" stroke="#3a3a3a" stroke-width="1.2" />
<line x1="140.69" y1="411.3" x2="140.69" y2="408.3" stroke="#3a3a3a" stroke-width="1.2" />
<line x1="140.69" y1="229" x2="140.69" y2="232" stroke="#3a3a3a" stroke-width="1.2" />
<line x1="176.31" y1="411.3" x2="176.31" y2="408.3" stroke="#3a3a3a" stroke-width="1.2" />
<line x1="176.31" y1="229" x2="176.31" y2="232" stroke="#3a3a3a" stroke-width="1.2" />
<line x1="211.91" y1="411.3" x2="211.91" y2="408.3" stroke="#3a3a3a" stroke-width="1.2" />
<line x1="211.91" y1="229" x2="211.91" y2="232" stroke="#3a3a3a" stroke-width="1.2" />
<line x1="247.53" y1="411.3" x2="247.53" y2="408.3" stroke="#3a3a3a" stroke-width="1.2" />
<line x1="247.53" y1="229" x2="247.53" y2="232" stroke="#3a3a3a" stroke-width="1.2" />
<line x1="50.2" y1="403.4" x2="55.7" y2="403.4" stroke="#3a3a3a" stroke-width="1.2" />
<line x1="266.9" y1="403.4" x2="261.4" y2="403.4" stroke="#3a3a3a" stroke-width="1.2" />
<line x1="50.2" y1="361.7" x2="55.7" y2="361.7" stroke="#3a3a3a" stroke-width="1.2" />
<line x1="266.9" y1="361.7" x2="261.4" y2="361.7" stroke="#3a3a3a" stroke-width="1.2" />
<line x1="50.2" y1="320" x2="55.7" y2="320" stroke="#3a3a3a" stroke-width="1.2" />
<line x1="266.9" y1="320" x2="261.4" y2="320" stroke="#3a3a3a" stroke-width="1.2" />
<line x1="50.2" y1="278.3" x2="55.7" y2="278.3" stroke="#3a3a3a" stroke-width="1.2" />
<line x1="266.9" y1="278.3" x2="261.4" y2="278.3" stroke="#3a3a3a" stroke-width="1.2" />
<line x1="50.2" y1="236.6" x2="55.7" y2="236.6" stroke="#3a3a3a" stroke-width="1.2" />
<line x1="266.9" y1="236.6" x2="261.4" y2="236.6" stroke="#3a3a3a" stroke-width="1.2" />
<line x1="50.2" y1="382.55" x2="53.2" y2="382.55" stroke="#3a3a3a" stroke-width="1.2" />
<line x1="266.9" y1="382.55" x2="263.9" y2="382.55" stroke="#3a3a3a" stroke-width="1.2" />
<line x1="50.2" y1="340.85" x2="53.2" y2="340.85" stroke="#3a3a3a" stroke-width="1.2" />
<line x1="266.9" y1="340.85" x2="263.9" y2="340.85" stroke="#3a3a3a" stroke-width="1.2" />
<line x1="50.2" y1="299.15" x2="53.2" y2="299.15" stroke="#3a3a3a" stroke-width="1.2" />
<line x1="266.9" y1="299.15" x2="263.9" y2="299.15" stroke="#3a3a3a" stroke-width="1.2" />
<line x1="50.2" y1="257.45" x2="53.2" y2="257.45" stroke="#3a3a3a" stroke-width="1.2" />
<line x1="266.9" y1="257.45" x2="263.9" y2="257.45" stroke="#3a3a3a" stroke-width="1.2" />
<rect x="50.2" y="229" width="216.7" height="182.3" fill="none" stroke="#3a3a3a" stroke-width="1.5"/>
<text x="51.67" y="427.7" font-size="15" text-anchor="middle" font-weight="normal" font-style="normal" >-90</text>
<text x="87.28" y="427.7" font-size="15" text-anchor="middle" font-weight="normal" font-style="normal" >-60</text>
<text x="122.89" y="427.7" font-size="15" text-anchor="middle" font-weight="normal" font-style="normal" >-30</text>
<text x="158.5" y="427.7" font-size="15" text-anchor="middle" font-weight="normal" font-style="normal" >0</text>
<text x="194.11" y="427.7" font-size="15" text-anchor="middle" font-weight="normal" font-style="normal" >30</text>
<text x="229.72" y="427.7" font-size="15" text-anchor="middle" font-weight="normal" font-style="normal" >60</text>
<text x="265.33" y="427.7" font-size="15" text-anchor="middle" font-weight="normal" font-style="normal" >90</text>
<text x="47.5" y="241.2" font-size="15" text-anchor="end" font-weight="normal" font-style="normal" >200</text>
<text x="47.5" y="282.9" font-size="15" text-anchor="end" font-weight="normal" font-style="normal" >100</text>
<text x="47.5" y="324.6" font-size="15" text-anchor="end" font-weight="normal" font-style="normal" >0</text>
<text x="47.5" y="366.3" font-size="15" text-anchor="end" font-weight="normal" font-style="normal" >-100</text>
<text x="47.5" y="408" font-size="15" text-anchor="end" font-weight="normal" font-style="normal" >-200</text>
<line x1="354.1" y1="411.3" x2="354.1" y2="405.8" stroke="#3a3a3a" stroke-width="1.2" />
<line x1="354.1" y1="229.1" x2="354.1" y2="234.6" stroke="#3a3a3a" stroke-width="1.2" />
<line x1="397.3" y1="411.3" x2="397.3" y2="405.8" stroke="#3a3a3a" stroke-width="1.2" />
<line x1="397.3" y1="229.1" x2="397.3" y2="234.6" stroke="#3a3a3a" stroke-width="1.2" />
<line x1="440.5" y1="411.3" x2="440.5" y2="405.8" stroke="#3a3a3a" stroke-width="1.2" />
<line x1="440.5" y1="229.1" x2="440.5" y2="234.6" stroke="#3a3a3a" stroke-width="1.2" />
<line x1="483.7" y1="411.3" x2="483.7" y2="405.8" stroke="#3a3a3a" stroke-width="1.2" />
<line x1="483.7" y1="229.1" x2="483.7" y2="234.6" stroke="#3a3a3a" stroke-width="1.2" />
<line x1="526.9" y1="411.3" x2="526.9" y2="405.8" stroke="#3a3a3a" stroke-width="1.2" />
<line x1="526.9" y1="229.1" x2="526.9" y2="234.6" stroke="#3a3a3a" stroke-width="1.2" />
<line x1="375.7" y1="411.3" x2="375.7" y2="408.3" stroke="#3a3a3a" stroke-width="1.2" />
<line x1="375.7" y1="229.1" x2="375.7" y2="232.1" stroke="#3a3a3a" stroke-width="1.2" />
<line x1="418.9" y1="411.3" x2="418.9" y2="408.3" stroke="#3a3a3a" stroke-width="1.2" />
<line x1="418.9" y1="229.1" x2="418.9" y2="232.1" stroke="#3a3a3a" stroke-width="1.2" />
<line x1="462.1" y1="411.3" x2="462.1" y2="408.3" stroke="#3a3a3a" stroke-width="1.2" />
<line x1="462.1" y1="229.1" x2="462.1" y2="232.1" stroke="#3a3a3a" stroke-width="1.2" />
<line x1="505.3" y1="411.3" x2="505.3" y2="408.3" stroke="#3a3a3a" stroke-width="1.2" />
<line x1="505.3" y1="229.1" x2="505.3" y2="232.1" stroke="#3a3a3a" stroke-width="1.2" />
<line x1="331.6" y1="411.2" x2="337.1" y2="411.2" stroke="#3a3a3a" stroke-width="1.2" />
<line x1="548.4" y1="411.2" x2="542.9" y2="411.2" stroke="#3a3a3a" stroke-width="1.2" />
<line x1="331.6" y1="374.8" x2="337.1" y2="374.8" stroke="#3a3a3a" stroke-width="1.2" />
<line x1="548.4" y1="374.8" x2="542.9" y2="374.8" stroke="#3a3a3a" stroke-width="1.2" />
<line x1="331.6" y1="338.4" x2="337.1" y2="338.4" stroke="#3a3a3a" stroke-width="1.2" />
<line x1="548.4" y1="338.4" x2="542.9" y2="338.4" stroke="#3a3a3a" stroke-width="1.2" />
<line x1="331.6" y1="302" x2="337.1" y2="302" stroke="#3a3a3a" stroke-width="1.2" />
<line x1="548.4" y1="302" x2="542.9" y2="302" stroke="#3a3a3a" stroke-width="1.2" />
<line x1="331.6" y1="265.6" x2="337.1" y2="265.6" stroke="#3a3a3a" stroke-width="1.2" />
<line x1="548.4" y1="265.6" x2="542.9" y2="265.6" stroke="#3a3a3a" stroke-width="1.2" />
<line x1="331.6" y1="229.2" x2="337.1" y2="229.2" stroke="#3a3a3a" stroke-width="1.2" />
<line x1="548.4" y1="229.2" x2="542.9" y2="229.2" stroke="#3a3a3a" stroke-width="1.2" />
<line x1="331.6" y1="393" x2="334.6" y2="393" stroke="#3a3a3a" stroke-width="1.2" />
<line x1="548.4" y1="393" x2="545.4" y2="393" stroke="#3a3a3a" stroke-width="1.2" />
<line x1="331.6" y1="356.6" x2="334.6" y2="356.6" stroke="#3a3a3a" stroke-width="1.2" />
<line x1="548.4" y1="356.6" x2="545.4" y2="356.6" stroke="#3a3a3a" stroke-width="1.2" />
<line x1="331.6" y1="320.2" x2="334.6" y2="320.2" stroke="#3a3a3a" stroke-width="1.2" />
<line x1="548.4" y1="320.2" x2="545.4" y2="320.2" stroke="#3a3a3a" stroke-width="1.2" />
<line x1="331.6" y1="283.8" x2="334.6" y2="283.8" stroke="#3a3a3a" stroke-width="1.2" />
<line x1="548.4" y1="283.8" x2="545.4" y2="283.8" stroke="#3a3a3a" stroke-width="1.2" />
<line x1="331.6" y1="247.4" x2="334.6" y2="247.4" stroke="#3a3a3a" stroke-width="1.2" />
<line x1="548.4" y1="247.4" x2="545.4" y2="247.4" stroke="#3a3a3a" stroke-width="1.2" />
<rect x="331.6" y="229.1" width="216.8" height="182.2" fill="none" stroke="#3a3a3a" stroke-width="1.5"/>
<text x="353.1" y="429.2" font-size="15" text-anchor="middle" font-weight="normal" font-style="normal" >-20</text>
<text x="396.3" y="429.2" font-size="15" text-anchor="middle" font-weight="normal" font-style="normal" >-10</text>
<text x="439.5" y="429.2" font-size="15" text-anchor="middle" font-weight="normal" font-style="normal" >0</text>
<text x="484.2" y="429.2" font-size="15" text-anchor="middle" font-weight="normal" font-style="normal" >10</text>
<text x="527.4" y="429.2" font-size="15" text-anchor="middle" font-weight="normal" font-style="normal" >20</text>
<text x="327" y="234.4" font-size="15" text-anchor="end" font-weight="normal" font-style="normal" >6</text>
<text x="327" y="270.8" font-size="15" text-anchor="end" font-weight="normal" font-style="normal" >4</text>
<text x="327" y="307.2" font-size="15" text-anchor="end" font-weight="normal" font-style="normal" >2</text>
<text x="327" y="343.6" font-size="15" text-anchor="end" font-weight="normal" font-style="normal" >0</text>
<text x="327" y="380" font-size="15" text-anchor="end" font-weight="normal" font-style="normal" >-2</text>
<text x="327" y="416.4" font-size="15" text-anchor="end" font-weight="normal" font-style="normal" >-4</text>
<text x="155.9" y="218.2" font-size="18" text-anchor="middle" font-weight="bold" font-style="normal" >V [mV]</text>
<text x="442.4" y="219.7" font-size="18" text-anchor="middle" font-weight="bold" font-style="normal" >V [mV]</text>
<text x="152.4" y="447" font-size="18" text-anchor="middle" font-weight="bold" font-style="normal" >V [mV]</text>
<text x="439.7" y="447.6" font-size="18" text-anchor="middle" font-weight="bold" font-style="normal" >V [V]</text>
<text x="0" y="0" font-size="18" font-weight="bold" text-anchor="middle" transform="translate(16.2,93) rotate(-90) scale(1.04,1.0)">I [mA]</text>
<text x="0" y="0" font-size="18" font-weight="bold" text-anchor="middle" transform="translate(296.8,95) rotate(-90) scale(1.03,0.95)">I [&#956;A]</text>
<text x="0" y="0" font-size="18" font-weight="bold" text-anchor="middle" transform="translate(13.6,318.7) rotate(-90) scale(1.05,0.93)">I [&#956;A]</text>
<text x="0" y="0" font-size="18" font-weight="bold" text-anchor="middle" transform="translate(299.8,319.3) rotate(-90) scale(1.045,0.95)">I [&#956;A]</text>
<text x="64" y="33.2" font-size="32" text-anchor="start" font-weight="normal" font-style="normal" >a)</text>
<text x="345" y="33.8" font-size="32" text-anchor="start" font-weight="normal" font-style="normal" >b)</text>
<text x="61" y="263.1" font-size="32" text-anchor="start" font-weight="normal" font-style="normal" >c)</text>
<text x="343.2" y="262.6" font-size="32" text-anchor="start" font-weight="normal" font-style="normal" >d)</text>
<line x1="210.3" y1="86.4" x2="236.7" y2="86.4" stroke="#6a0404" stroke-width="2.2" stroke-linecap="round"/>
<text x="238.4" y="90.2" font-size="10.8" text-anchor="start" font-weight="normal" font-style="normal" >12 K</text>
<line x1="210.3" y1="99.8" x2="236.7" y2="99.8" stroke="#dc0000" stroke-width="2.2" stroke-linecap="round"/>
<text x="238.4" y="103.6" font-size="10.8" text-anchor="start" font-weight="normal" font-style="normal" >16 K</text>
<line x1="210.3" y1="113.2" x2="236.7" y2="113.2" stroke="#ff2a00" stroke-width="2.2" stroke-linecap="round"/>
<text x="238.4" y="117" font-size="10.8" text-anchor="start" font-weight="normal" font-style="normal" >20 K</text>
<line x1="210.3" y1="126.6" x2="236.7" y2="126.6" stroke="#f06a00" stroke-width="2.2" stroke-linecap="round"/>
<text x="238.4" y="130.4" font-size="10.8" text-anchor="start" font-weight="normal" font-style="normal" >30 K</text>
<line x1="210.3" y1="140" x2="236.7" y2="140" stroke="#f68c22" stroke-width="2.2" stroke-linecap="round"/>
<text x="238.4" y="143.8" font-size="10.8" text-anchor="start" font-weight="normal" font-style="normal" >40 K</text>
<line x1="210.3" y1="153.4" x2="236.7" y2="153.4" stroke="#f8b266" stroke-width="2.2" stroke-linecap="round"/>
<text x="238.4" y="157.2" font-size="10.8" text-anchor="start" font-weight="normal" font-style="normal" >50 K</text>
<line x1="210.3" y1="166.8" x2="236.7" y2="166.8" stroke="#f3dcaa" stroke-width="2.2" stroke-linecap="round"/>
<text x="238.4" y="170.6" font-size="10.8" text-anchor="start" font-weight="normal" font-style="normal" >78 K</text>
<line x1="495.8" y1="75.8" x2="521.4" y2="75.8" stroke="#6b0a0a" stroke-width="2.2" stroke-linecap="round"/>
<text x="523.5" y="79.6" font-size="10.8" text-anchor="start" font-weight="normal" font-style="normal" >12 K</text>
<line x1="495.8" y1="89.2" x2="521.4" y2="89.2" stroke="#d00000" stroke-width="2.2" stroke-linecap="round"/>
<text x="523.5" y="93" font-size="10.8" text-anchor="start" font-weight="normal" font-style="normal" >16 K</text>
<line x1="495.8" y1="102.6" x2="521.4" y2="102.6" stroke="#ff2000" stroke-width="2.2" stroke-linecap="round"/>
<text x="523.5" y="106.4" font-size="10.8" text-anchor="start" font-weight="normal" font-style="normal" >20 K</text>
<line x1="495.8" y1="116" x2="521.4" y2="116" stroke="#f46a00" stroke-width="2.2" stroke-linecap="round"/>
<text x="523.5" y="119.8" font-size="10.8" text-anchor="start" font-weight="normal" font-style="normal" >30 K</text>
<line x1="495.8" y1="129.4" x2="521.4" y2="129.4" stroke="#f68c22" stroke-width="2.2" stroke-linecap="round"/>
<text x="523.5" y="133.2" font-size="10.8" text-anchor="start" font-weight="normal" font-style="normal" >35 K</text>
<line x1="495.8" y1="142.8" x2="521.4" y2="142.8" stroke="#f8b266" stroke-width="2.2" stroke-linecap="round"/>
<text x="523.5" y="146.6" font-size="10.8" text-anchor="start" font-weight="normal" font-style="normal" >40 K</text>
<line x1="495.8" y1="156.2" x2="521.4" y2="156.2" stroke="#f3d49a" stroke-width="2.2" stroke-linecap="round"/>
<text x="523.5" y="160" font-size="10.8" text-anchor="start" font-weight="normal" font-style="normal" >45 K</text>
<line x1="212.2" y1="330.4" x2="238" y2="330.4" stroke="#6b0a0a" stroke-width="2.2" stroke-linecap="round"/>
<text x="240.2" y="334.2" font-size="10.8" text-anchor="start" font-weight="normal" font-style="normal" >12 K</text>
<line x1="212.2" y1="343.8" x2="238" y2="343.8" stroke="#e00000" stroke-width="2.2" stroke-linecap="round"/>
<text x="240.2" y="347.6" font-size="10.8" text-anchor="start" font-weight="normal" font-style="normal" >24 K</text>
<line x1="212.2" y1="357.2" x2="238" y2="357.2" stroke="#ff3010" stroke-width="2.2" stroke-linecap="round"/>
<text x="240.2" y="361" font-size="10.8" text-anchor="start" font-weight="normal" font-style="normal" >27 K</text>
<line x1="212.2" y1="370.6" x2="238" y2="370.6" stroke="#f47000" stroke-width="2.2" stroke-linecap="round"/>
<text x="240.2" y="374.4" font-size="10.8" text-anchor="start" font-weight="normal" font-style="normal" >30 K</text>
<line x1="212.2" y1="384" x2="238" y2="384" stroke="#f89a3a" stroke-width="2.2" stroke-linecap="round"/>
<text x="240.2" y="387.8" font-size="10.8" text-anchor="start" font-weight="normal" font-style="normal" >35 K</text>
<line x1="212.2" y1="397.4" x2="238" y2="397.4" stroke="#f5cf90" stroke-width="2.2" stroke-linecap="round"/>
<text x="240.2" y="401.2" font-size="10.8" text-anchor="start" font-weight="normal" font-style="normal" >40 K</text>
<line x1="489.5" y1="354.8" x2="514.8" y2="354.8" stroke="#8a1010" stroke-width="2.2" stroke-linecap="round"/>
<text x="517.6" y="358.6" font-size="10.8" text-anchor="start" font-weight="normal" font-style="normal" >12 K</text>
<line x1="489.5" y1="368.2" x2="514.8" y2="368.2" stroke="#ff3000" stroke-width="2.2" stroke-linecap="round"/>
<text x="517.6" y="372" font-size="10.8" text-anchor="start" font-weight="normal" font-style="normal" >50 K</text>
<line x1="489.5" y1="381.6" x2="514.8" y2="381.6" stroke="#f88000" stroke-width="2.2" stroke-linecap="round"/>
<text x="517.6" y="385.4" font-size="10.8" text-anchor="start" font-weight="normal" font-style="normal" >150 K</text>
<line x1="489.5" y1="395" x2="514.8" y2="395" stroke="#f7c07c" stroke-width="2.2" stroke-linecap="round"/>
<text x="517.6" y="398.8" font-size="10.8" text-anchor="start" font-weight="normal" font-style="normal" >300 K</text>
<line x1="457" y1="172.3" x2="484" y2="172.3" stroke="#111" stroke-width="1.8" stroke-dasharray="6 6"/>
<text x="487" y="175" font-size="14" font-weight="normal">slope = <tspan font-style="italic">R</tspan><tspan font-style="italic" font-size="8.5" dy="3.2" dx="0.8">n</tspan></text>
<text x="382.5" y="17.9" font-size="17.5" font-weight="bold" font-style="italic">I</text>
<text x="389" y="24.3" font-size="10.5" font-weight="bold" font-style="italic">c</text>
<text x="396.5" y="18.8" font-size="11.5" font-weight="bold" letter-spacing="0.25">(12 K)</text>
<line x1="400.5" y1="26" x2="432" y2="26" stroke="#111" stroke-width="1.9" />
<polygon points="438.2,25.9 429,23.2 429,28.6" fill="#111"/>
<ellipse cx="450.7" cy="26.5" rx="9.2" ry="7.9" fill="none" stroke="#111" stroke-width="1.5"/>
</svg></body></html>
